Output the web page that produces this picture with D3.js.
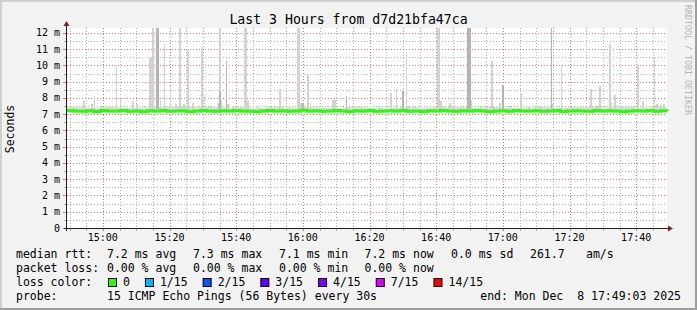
<!DOCTYPE html>
<html>
<head>
<meta charset="utf-8">
<script src="https://d3js.org/d3.v7.min.js"></script>
<style>
  body { margin: 0; background: #f2f2f2; }
  svg text { font-family: "DejaVu Sans Mono", monospace; white-space: pre; }
</style>
</head>
<body>
<div class="smoke_area"></div>
<script>
// ---- data ----
var day = "2025-12-08 ";
var timeStart = "14:49:15", timeEnd = "17:49:15";
var titleText = "Last 3 Hours from d7d21bfa47ca";
var yMax = 12.3;
var yTickValues = [0, 1, 2, 3, 4, 5, 6, 7, 8, 9, 10, 11, 12];
var yTickLabels = ["0", "1 m", "2 m", "3 m", "4 m", "5 m", "6 m", "7 m", "8 m", "9 m", "10 m", "11 m", "12 m"];

// median rtt (ms), one value every 2 minutes from timeStart
var medianRtt = [7.22, 7.20, 7.18, 7.21, 7.16, 7.22, 7.19, 7.20, 7.23, 7.18, 7.20, 7.17, 7.21, 7.19, 7.22, 7.18,
  7.20, 7.21, 7.16, 7.19, 7.22, 7.20, 7.18, 7.21, 7.19, 7.23, 7.20, 7.18, 7.17, 7.20, 7.22, 7.19, 7.21, 7.18,
  7.20, 7.24, 7.19, 7.21, 7.18, 7.20, 7.22, 7.19, 7.17, 7.21, 7.20, 7.23, 7.18, 7.20, 7.21, 7.19, 7.22, 7.18,
  7.20, 7.17, 7.21, 7.20, 7.22, 7.19, 7.18, 7.21, 7.20, 7.23, 7.19, 7.17, 7.20, 7.21, 7.18, 7.22, 7.20, 7.19,
  7.21, 7.18, 7.20, 7.22, 7.17, 7.19, 7.21, 7.20, 7.18, 7.22, 7.19, 7.21, 7.20, 7.16, 7.19, 7.21, 7.20, 7.22,
  7.18, 7.21, 7.20];

// smoke band around the median (ms), one value every 5 minutes
var bandHigh = [7.42, 7.40, 7.44, 7.41, 7.39, 7.45, 7.43, 7.46, 7.42, 7.40, 7.44, 7.41, 7.43, 7.39, 7.42, 7.40,
  7.41, 7.44, 7.40, 7.38, 7.42, 7.41, 7.45, 7.43, 7.40, 7.42, 7.39, 7.41, 7.43, 7.40, 7.44, 7.42, 7.40, 7.45,
  7.41, 7.43, 7.42];
var bandLow = [7.06, 7.04, 7.08, 7.05, 7.03, 7.07, 7.05, 7.04, 7.06, 7.08, 7.03, 7.05, 7.07, 7.04, 7.06, 7.05,
  7.03, 7.07, 7.05, 7.04, 7.06, 7.08, 7.05, 7.03, 7.06, 7.04, 7.07, 7.05, 7.04, 7.06, 7.03, 7.05, 7.07, 7.04,
  7.06, 7.05, 7.04];

// outlier pings: time, highest ping (ms), top of the denser part (0 = none)
var spikeTime = ["14:54:06", "14:56:30", "14:57:12", "14:59:24", "15:03:48", "15:05:00", "15:08:42", "15:10:00",
  "15:12:12", "15:13:42", "15:14:12", "15:14:48", "15:15:48", "15:16:18", "15:17:00", "15:18:12", "15:20:00",
  "15:21:36", "15:22:48", "15:24:00", "15:25:12", "15:26:48", "15:29:24", "15:30:12", "15:31:48", "15:34:12",
  "15:34:48", "15:35:12", "15:36:48", "15:37:12", "15:38:42", "15:42:18", "15:42:48", "15:43:18", "15:46:12",
  "15:50:00", "15:52:48", "15:53:36", "15:55:48", "15:58:12", "15:58:42", "15:59:12", "15:59:48", "16:01:12",
  "16:02:00", "16:06:12", "16:08:48", "16:09:18", "16:12:48", "16:13:30", "16:20:00", "16:22:30", "16:26:12",
  "16:27:48", "16:29:42", "16:30:48", "16:31:12", "16:40:12", "16:40:42", "16:41:12", "16:43:48", "16:45:12",
  "16:49:18", "16:49:48", "16:50:18", "16:53:00", "16:56:24", "16:57:00", "16:58:48", "16:59:48", "17:01:48",
  "17:05:12", "17:07:30", "17:11:12", "17:14:18", "17:14:48", "17:17:18", "17:20:30", "17:23:00", "17:26:12",
  "17:28:00", "17:28:48", "17:31:48", "17:32:18", "17:33:18", "17:35:30", "17:39:00", "17:40:12", "17:41:42",
  "17:45:12", "17:46:00", "17:47:00", "17:48:00"];
var spikeTop = [7.84, 7.60, 8.09, 7.50, 9.95, 8.05, 7.80, 7.60,
  7.50, 10.46, 10.46, 13, 13, 13, 7.84, 11.30, 8.72,
  7.64, 13, 7.60, 10.98, 7.70, 11.16, 8.17, 7.50, 7.66,
  13, 7.84, 10.30, 7.60, 7.50, 13, 13, 7.80, 7.43,
  7.43, 8.52, 7.53, 7.43, 13, 13, 7.66, 7.70, 9.44,
  7.70, 7.43, 7.90, 7.85, 8.10, 7.43, 7.50, 7.43, 8.31,
  8.52, 8.45, 10.77, 7.53, 13, 13, 7.84, 7.70, 7.60,
  13, 13, 7.84, 7.53, 10.26, 7.43, 7.66, 8.82, 7.53,
  8.31, 7.43, 7.53, 13, 7.64, 10.01, 7.43, 7.43, 8.52,
  7.53, 8.72, 11.34, 7.70, 8.21, 7.43, 7.53, 10.01, 7.84,
  10.52, 7.64, 7.60, 7.60];
var spikeMid = [0, 0, 0, 0, 0, 0, 0, 0,
  0, 0, 0, 0, 13, 13, 0, 0, 0,
  0, 0, 0, 0, 0, 0, 0, 0, 0,
  8.4, 0, 10.30, 0, 0, 0, 0, 0, 0,
  0, 0, 0, 0, 0, 0, 0, 7.70, 0,
  0, 0, 0, 0, 8.10, 0, 0, 0, 0,
  0, 8.45, 0, 0, 0, 0, 0, 0, 0,
  13, 13, 0, 0, 0, 0, 0, 8.82, 0,
  0, 0, 0, 13, 0, 0, 0, 0, 0,
  0, 0, 0, 0, 0, 0, 0, 0, 0,
  0, 0, 0, 0];

// legend values
var rttStats = ["7.2", "7.3", "7.1", "7.2", "0.0"];
var rttStatNames = ["avg", "max", "min", "now", "sd"];
var amPerS = "261.7";
var lossStats = ["0.00", "0.00", "0.00", "0.00"];
var lossStatNames = ["avg", "max", "min", "now"];
var lossLevels = ["0", "1/15", "2/15", "3/15", "4/15", "7/15", "14/15"];
var lossColors = ["#26ff00", "#00b8ff", "#0059ff", "#5e00ff", "#7e00ff", "#dd00ff", "#ff0000"];
var probeText = "15 ICMP Echo Pings (56 Bytes) every 30s";
var endText = "end: Mon Dec  8 17:49:03 2025";

// ---- layout ----
var W = 697, H = 310;
var plot = {left: 67, right: 667, top: 28, bottom: 228};
var col = {
  back: "#f2f2f2", canvas: "#ffffff", shadeA: "#cfcfcf", shadeB: "#9e9e9e",
  grid: "rgba(143,143,143,0.7)", mgrid: "rgba(222,79,79,0.8)",
  arrow: "#801f1f", axis: "#1f1f1f", font: "#000000"
};

var parse = d3.timeParse("%Y-%m-%d %H:%M:%S");
var t0 = parse(day + timeStart), t1 = parse(day + timeEnd);

var x = d3.scaleTime().domain([t0, t1]).range([plot.left, plot.right]);
var y = d3.scaleLinear().domain([0, yMax]).range([plot.bottom, plot.top]);

var svg = d3.select(".smoke_area").append("svg")
  .attr("width", W)
  .attr("height", H)
  .style("display", "block");

// background + 3d border
svg.append("rect").attr("width", W).attr("height", H).attr("fill", col.back);
svg.append("path").attr("d", "M1," + H + "V1H" + W).attr("fill", "none")
  .attr("stroke", col.shadeA).attr("stroke-width", 2);
svg.append("path").attr("d", "M0," + (H - 1) + "H" + (W - 1) + "V0").attr("fill", "none")
  .attr("stroke", col.shadeB).attr("stroke-width", 2);

svg.append("rect")
  .attr("x", plot.left).attr("y", plot.top)
  .attr("width", plot.right - plot.left).attr("height", plot.bottom - plot.top)
  .attr("fill", col.canvas);

// grid
var crisp = function (v) { return Math.round(v) + 0.5; };
var grid = svg.append("g").attr("stroke-dasharray", "1,2").attr("shape-rendering", "crispEdges");

var minorT = d3.timeMinute.every(5).range(t0, t1).filter(function (d) { return d.getMinutes() % 20 != 0; });
var majorT = d3.timeMinute.every(20).range(t0, t1);

grid.selectAll("line.vmin").data(minorT).enter().append("line")
  .attr("x1", d => crisp(x(d))).attr("x2", d => crisp(x(d)))
  .attr("y1", plot.top).attr("y2", plot.bottom)
  .attr("stroke", col.grid);
grid.selectAll("line.vmaj").data(majorT).enter().append("line")
  .attr("x1", d => crisp(x(d))).attr("x2", d => crisp(x(d)))
  .attr("y1", plot.top).attr("y2", plot.bottom)
  .attr("stroke", col.mgrid);

var minorY = yTickValues.slice(0, -1).map(function (v) { return v + 0.5; });
var majorY = yTickValues.slice(1);
grid.selectAll("line.hmin").data(minorY).enter().append("line")
  .attr("x1", plot.left).attr("x2", plot.right)
  .attr("y1", d => crisp(y(d))).attr("y2", d => crisp(y(d)))
  .attr("stroke", col.grid);
grid.selectAll("line.hmaj").data(majorY).enter().append("line")
  .attr("x1", plot.left).attr("x2", plot.right)
  .attr("y1", d => crisp(y(d))).attr("y2", d => crisp(y(d)))
  .attr("stroke", col.mgrid);

// smoke
var smoke = svg.append("g").attr("shape-rendering", "crispEdges");
var bandData = bandHigh.map(function (v, i) {
  return {t: d3.timeMinute.offset(t0, i * 5), hi: v, lo: bandLow[i]};
});
smoke.append("path")
  .datum(bandData)
  .attr("fill", "#dddddd")
  .attr("d", d3.area().curve(d3.curveStepAfter)
    .x(d => x(d.t)).y0(d => y(d.lo)).y1(d => y(d.hi)));

var step = x(d3.timeSecond.offset(t0, 30)) - x(t0);
var spikes = spikeTime.map(function (s, i) {
  return {t: parse(day + s), top: Math.min(spikeTop[i], yMax), mid: Math.min(spikeMid[i], yMax)};
});
var base = 7.3;
smoke.selectAll("rect.light").data(spikes).enter().append("rect")
  .attr("x", d => x(d.t))
  .attr("width", step)
  .attr("y", d => y(d.top))
  .attr("height", d => y(base) - y(d.top))
  .attr("fill", "#d2d2d2");
smoke.selectAll("rect.dense").data(spikes.filter(d => d.mid > 0)).enter().append("rect")
  .attr("x", d => x(d.t))
  .attr("width", step)
  .attr("y", d => y(d.mid))
  .attr("height", d => y(base) - y(d.mid))
  .attr("fill", "#b4b4b4");

// median line
var medData = medianRtt.map(function (v, i) { return {t: d3.timeMinute.offset(t0, i * 2), v: v}; });
svg.append("path")
  .datum(medData)
  .attr("fill", "none")
  .attr("stroke", lossColors[0])
  .attr("stroke-width", 3)
  .attr("d", d3.line().curve(d3.curveStepAfter).x(d => x(d.t)).y(d => y(d.v)));

// axes
var axes = svg.append("g").attr("shape-rendering", "crispEdges");
axes.selectAll("line.xtmin").data(minorT).enter().append("line")
  .attr("x1", d => crisp(x(d))).attr("x2", d => crisp(x(d)))
  .attr("y1", plot.bottom).attr("y2", plot.bottom + 3).attr("stroke", col.grid);
axes.selectAll("line.xtmaj").data(majorT).enter().append("line")
  .attr("x1", d => crisp(x(d))).attr("x2", d => crisp(x(d)))
  .attr("y1", plot.bottom).attr("y2", plot.bottom + 3).attr("stroke", col.mgrid);
axes.selectAll("line.ytmin").data(minorY).enter().append("line")
  .attr("x1", plot.left - 3).attr("x2", plot.left)
  .attr("y1", d => crisp(y(d))).attr("y2", d => crisp(y(d))).attr("stroke", col.grid);
axes.selectAll("line.ytmaj").data(yTickValues).enter().append("line")
  .attr("x1", plot.left - 4).attr("x2", plot.left)
  .attr("y1", d => crisp(y(d))).attr("y2", d => crisp(y(d))).attr("stroke", col.mgrid);

axes.append("line")
  .attr("x1", plot.left - 3).attr("x2", plot.right + 3)
  .attr("y1", plot.bottom + 0.5).attr("y2", plot.bottom + 0.5)
  .attr("stroke", col.axis);
axes.append("line")
  .attr("x1", plot.left - 0.5).attr("x2", plot.left - 0.5)
  .attr("y1", plot.bottom + 3).attr("y2", plot.top - 3)
  .attr("stroke", col.axis);
svg.append("path")
  .attr("d", "M" + (plot.right + 1) + "," + (plot.bottom - 2.5) + "L" + (plot.right + 6) + "," + (plot.bottom + 0.5) +
    "L" + (plot.right + 1) + "," + (plot.bottom + 3.5) + "Z")
  .attr("fill", col.arrow);
svg.append("path")
  .attr("d", "M" + (plot.left - 3.5) + "," + (plot.top - 2) + "L" + (plot.left - 0.5) + "," + (plot.top - 7) +
    "L" + (plot.left + 2.5) + "," + (plot.top - 2) + "Z")
  .attr("fill", col.arrow);

// tick labels
var fmt = d3.timeFormat("%H:%M");
svg.selectAll("text.xl").data(majorT).enter().append("text")
  .attr("x", d => x(d)).attr("y", plot.bottom + 12.5)
  .attr("text-anchor", "middle")
  .style("font-size", "10px").attr("fill", col.font)
  .text(d => fmt(d));
svg.selectAll("text.yl").data(yTickValues).enter().append("text")
  .attr("x", 60).attr("y", d => y(d) + 3.5)
  .attr("text-anchor", "end")
  .style("font-size", "10px").attr("fill", col.font)
  .text((d, i) => yTickLabels[i]);

// title, axis label, watermark
svg.append("text")
  .attr("x", W / 2).attr("y", 24)
  .attr("text-anchor", "middle")
  .style("font-size", "13.2px").attr("fill", col.font)
  .text(titleText);
svg.append("text")
  .attr("transform", "translate(14," + ((plot.top + plot.bottom) / 2 + 1) + ") rotate(-90)")
  .attr("text-anchor", "middle")
  .style("font-size", "11.5px").attr("fill", col.font)
  .text("Seconds");
svg.append("text")
  .attr("transform", "translate(685,5) rotate(90)")
  .style("font-size", "8.3px").attr("fill", "#b4b4b4")
  .text("RRDTOOL / TOBI OETIKER");

// legend
var lg = svg.append("g").style("font-size", "11.5px").attr("fill", col.font);
var statX = [107, 193, 279, 364.5, 451];
var row = [258, 272, 286, 300];

lg.append("text").attr("x", 16).attr("y", row[0]).text("median rtt:");
rttStats.forEach(function (v, i) {
  lg.append("text").attr("x", statX[i]).attr("y", row[0]).text(v + " ms " + rttStatNames[i]);
});
lg.append("text").attr("x", 530).attr("y", row[0]).text(amPerS);
lg.append("text").attr("x", 586).attr("y", row[0]).text("am/s");

lg.append("text").attr("x", 16).attr("y", row[1]).text("packet loss:");
lossStats.forEach(function (v, i) {
  lg.append("text").attr("x", statX[i]).attr("y", row[1]).text(v + " % " + lossStatNames[i]);
});

lg.append("text").attr("x", 16).attr("y", row[2]).text("loss color:");
var bx = 108;
lossLevels.forEach(function (lab, i) {
  lg.append("rect")
    .attr("x", bx + 0.5).attr("y", row[2] - 7.5)
    .attr("width", 8).attr("height", 8)
    .attr("fill", lossColors[i]).attr("stroke", "#000");
  var t = lg.append("text").attr("x", bx + 15).attr("y", row[2]).text(lab);
  bx = bx + 15 + t.node().getComputedTextLength() + 15;
});

lg.append("text").attr("x", 16).attr("y", row[3]).text("probe:");
lg.append("text").attr("x", 107).attr("y", row[3]).text(probeText);
lg.append("text").attr("x", 681).attr("y", row[3]).attr("text-anchor", "end").text(endText);
</script>
</body>
</html>
